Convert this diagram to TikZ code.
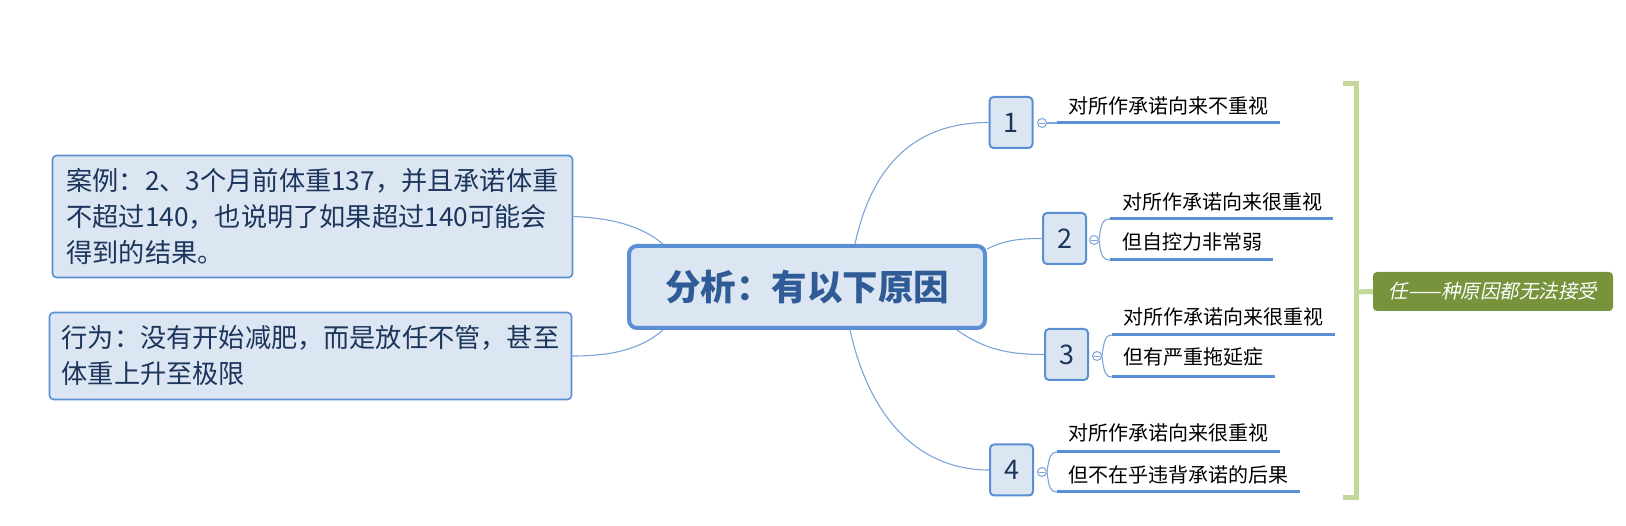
\documentclass[tikz,border=0pt]{standalone}
\usepackage{fontspec}
\setmainfont{Noto Sans CJK SC}
\newfontfamily\cjkit{Noto Sans CJK SC}[FakeSlant=0.2]
\XeTeXlinebreaklocale "zh"
\usetikzlibrary{calc}
\definecolor{boxfill}{HTML}{DCE6F2}
\definecolor{boxline}{HTML}{5B8FD4}
\definecolor{conncol}{HTML}{7DA3DA}
\definecolor{maintext}{HTML}{2F5C97}
\definecolor{navytext}{HTML}{1C355C}
\definecolor{bracketcol}{HTML}{C4D79B}
\definecolor{sumfill}{HTML}{77933C}
\begin{document}
\begin{tikzpicture}[x=1pt,y=-1pt,
  central/.style={draw=boxline, fill=boxfill, line width=4pt, rounded corners=8pt,
    minimum width=356pt, minimum height=82pt, inner sep=0pt, text=maintext,
    font=\fontsize{35.5}{40}\selectfont\bfseries},
  notebox/.style={draw=boxline, fill=boxfill, line width=1.6pt, rounded corners=4pt,
    inner xsep=0pt, inner ysep=0pt, text=navytext, align=left,
    font=\fontsize{26.2}{36}\selectfont},
  numbox/.style={draw=boxline, fill=boxfill, line width=2pt, rounded corners=4pt,
    minimum width=43pt, minimum height=51pt, inner sep=0pt, text=navytext,
    font=\fontsize{27}{30}\selectfont},
  leaf/.style={anchor=west, inner sep=0pt, text=black, font=\fontsize{20}{24}\selectfont},
  conn/.style={draw=conncol, line width=1.1pt},
  uline/.style={draw=boxline, line width=3pt},
  collapse/.style={circle, draw=conncol, fill=white, line width=1pt, minimum size=9pt, inner sep=0pt,
    path picture={\draw[conncol, line width=0.9pt] ([xshift=-2.6pt]path picture bounding box.center) -- ([xshift=2.6pt]path picture bounding box.center);}},
  bracketline/.style={draw=bracketcol, line width=5pt},
  summary/.style={fill=sumfill, rounded corners=4pt, minimum width=240pt, minimum height=39pt,
    inner sep=0pt, text=white, font=\fontsize{19.5}{22}\selectfont\cjkit}
]
\useasboundingbox (0,0) rectangle (1626,526);

% central topic
\node[central] (main) at (807,287) {分析：有以下原因};

% left notes
\node[notebox, minimum width=520pt, minimum height=122pt] (A) at (312.5,216.5)
  {案例：2、3个月前体重137，并且承诺体重\\不超过140，也说明了如果超过140可能会\\得到的结果。};
\node[notebox, minimum width=522pt, minimum height=87pt] (B) at (310.5,356)
  {行为：没有开始减肥，而是放任不管，甚至\\体重上升至极限};

% numbered topics
\node[numbox] (n1) at (1011,122.5) {1};
\node[numbox] (n2) at (1064.5,238.5) {2};
\node[numbox] (n3) at (1066.5,354.5) {3};
\node[numbox] (n4) at (1011.5,470) {4};

% connectors from central topic
\draw[conn] ([xshift=228pt]main.north west) .. controls (872,165) and (915,122.5) .. (n1.west);
\draw[conn] ([yshift=38pt]main.east) .. controls (1005,240) and (1020,238.5) .. (n2.west);
\draw[conn] ([xshift=-30pt]main.south east) .. controls (985,350) and (1010,354.5) .. (n3.west);
\draw[conn] ([xshift=223pt]main.south west) .. controls (870,420) and (920,470) .. (n4.west);
\draw[conn] ([xshift=36pt]main.north west) .. controls (640,225) and (610,218) .. (A.east);
\draw[conn] ([xshift=36pt]main.south west) .. controls (640,350) and (610,356) .. (B.east);

% collapse markers
\node[collapse] (k1) at (1042,123) {};
\node[collapse] (k2) at (1094,240) {};
\node[collapse] (k3) at (1097,356) {};
\node[collapse] (k4) at (1042,472) {};

% underline anchor points
\coordinate (u1s) at (1057,123); \coordinate (u1e) at (1280,123);
\coordinate (u2as) at (1110,219); \coordinate (u2ae) at (1333,219);
\coordinate (u2bs) at (1110,260); \coordinate (u2be) at (1273,260);
\coordinate (u3as) at (1112,335); \coordinate (u3ae) at (1335,335);
\coordinate (u3bs) at (1112,377); \coordinate (u3be) at (1275,377);
\coordinate (u4as) at (1057,452); \coordinate (u4ae) at (1280,452);
\coordinate (u4bs) at (1057,492); \coordinate (u4be) at (1300,492);

% branch 1
\draw[conn] (k1.east) -- (u1s);
\draw[uline] (u1s) -- (u1e);
\node[leaf] (t1) at (1068,106) {对所作承诺向来不重视};

% branch 2
\draw[conn] (k2.east) .. controls (1101,223) and (1103,219) .. (u2as);
\draw[conn] (k2.east) .. controls (1101,257) and (1103,260) .. (u2bs);
\draw[uline] (u2as) -- (u2ae);
\draw[uline] (u2bs) -- (u2be);
\node[leaf] (t2a) at (1122,202) {对所作承诺向来很重视};
\node[leaf] (t2b) at (1122,242) {但自控力非常弱};

% branch 3
\draw[conn] (k3.east) .. controls (1104,339) and (1106,335) .. (u3as);
\draw[conn] (k3.east) .. controls (1104,374) and (1106,377) .. (u3bs);
\draw[uline] (u3as) -- (u3ae);
\draw[uline] (u3bs) -- (u3be);
\node[leaf] (t3a) at (1123,317) {对所作承诺向来很重视};
\node[leaf] (t3b) at (1123,357) {但有严重拖延症};

% branch 4
\draw[conn] (k4.east) .. controls (1049,456) and (1051,452) .. (u4as);
\draw[conn] (k4.east) .. controls (1049,489) and (1051,492) .. (u4bs);
\draw[uline] (u4as) -- (u4ae);
\draw[uline] (u4bs) -- (u4be);
\node[leaf] (t4a) at (1068,433) {对所作承诺向来很重视};
\node[leaf] (t4b) at (1068,475) {但不在乎违背承诺的后果};

% summary bracket
\coordinate (bt) at (1343,84);
\coordinate (bb) at (1343,498);
\coordinate (bm) at (1356,292);
\node[summary] (S) at (1493,291.5) {任——种原因都无法接受};
\draw[bracketline] (bt) -- (1356,84) -- (1356,498) -- (bb);
\draw[bracketline] (bm) -- (S.west);
\end{tikzpicture}
\end{document}
